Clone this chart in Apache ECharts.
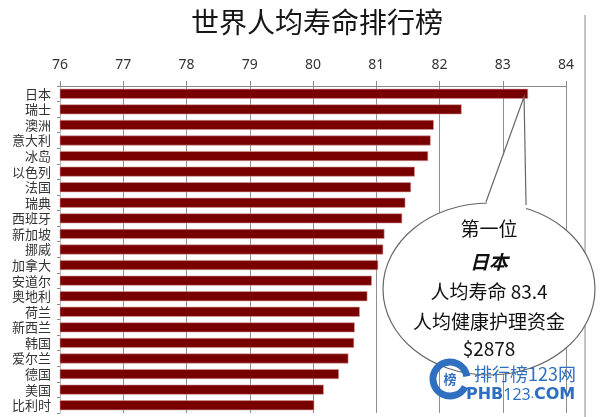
<!DOCTYPE html>
<html>
<head>
<meta charset="utf-8">
<script src="https://cdn.jsdelivr.net/npm/echarts@6/dist/echarts.min.js"></script>
<style>
  html, body { margin: 0; padding: 0; background: #fff; }
  #chart { width: 600px; height: 417px; }
</style>
</head>
<body>
<div id="chart"></div>
<script>
// 国家（从上到下）
const countries = ['日本', '瑞士', '澳洲', '意大利', '冰岛', '以色列', '法国', '瑞典', '西班牙', '新加坡',
  '挪威', '加拿大', '安道尔', '奥地利', '荷兰', '新西兰', '韩国', '爱尔兰', '德国', '美国', '比利时']
// 人均寿命（岁）
const lifeExpectancy = [83.4, 82.35, 81.91, 81.86, 81.82, 81.61, 81.55, 81.46, 81.41, 81.13,
  81.11, 81.03, 80.93, 80.86, 80.74, 80.66, 80.65, 80.56, 80.41, 80.17, 80.02]
const axisMin = 76
const axisMax = 84
// 气泡说明文字
const calloutLines = ['第一位', '日本', '人均寿命 83.4', '人均健康护理资金', '$2878']

const CJK = '"Noto Sans CJK SC", "Noto Sans", sans-serif'
const myChart = echarts.init(document.getElementById('chart'))

const options = {
  backgroundColor: '#fff',
  animation: false,
  title: {
    text: '世界人均寿命排行榜',
    left: 186,
    top: 3,
    textStyle: { fontFamily: CJK, fontSize: 28, fontWeight: 'normal', color: '#151515' }
  },
  grid: { left: 60, right: 34, top: 86, bottom: 4 },
  xAxis: {
    type: 'value',
    position: 'top',
    min: axisMin,
    max: axisMax,
    interval: 1,
    axisLine: { show: true, lineStyle: { color: '#8a8a8a' } },
    axisTick: { show: true, length: 5, lineStyle: { color: '#8a8a8a' } },
    axisLabel: { margin: 14, fontSize: 14, color: '#333', fontFamily: '"Noto Sans", sans-serif' },
    splitLine: { show: true, lineStyle: { color: '#8f8f8f', width: 1 } }
  },
  yAxis: {
    type: 'category',
    inverse: true,
    data: countries,
    axisLine: { show: true, lineStyle: { color: '#bbb' } },
    axisTick: { show: true, length: 3, lineStyle: { color: '#8a8a8a' } },
    axisLabel: { interval: 0, margin: 9, fontSize: 13, color: '#333', fontFamily: CJK }
  },
  series: [{
    type: 'bar',
    data: lifeExpectancy,
    barCategoryGap: '36%',
    itemStyle: { color: '#780000', borderColor: '#d99a9a', borderWidth: 0.6 }
  }]
}
myChart.setOption(options)

// 气泡标注：尖端指向第一名的柱端
const tip = myChart.convertToPixel({ gridIndex: 0 }, [lifeExpectancy[0], countries[0]])
const cx = 489
const cy = 289
const tipX = tip[0] - 4
const tipY = tip[1] + 3
const line = '#666'
const textStyle = (y, size, extra) => Object.assign({
  x: cx, y: y, text: '', fill: '#111', fontSize: size, fontFamily: CJK,
  align: 'center', verticalAlign: 'middle'
}, extra || {})

myChart.setOption({
  graphic: [
    // 右侧竖线（原图边框）
    { type: 'line', shape: { x1: 585, y1: 15, x2: 585, y2: 417 }, style: { stroke: '#888', lineWidth: 1 }, z: 50 },
    { type: 'ellipse', shape: { cx: cx, cy: cy, rx: 106, ry: 86 }, style: { fill: '#fff', stroke: line, lineWidth: 1.2 }, z: 100 },
    {
      type: 'polygon',
      shape: { points: [[cx - 2, 201], [tipX, tipY], [tipX + 2, 205], [tipX + 2, 212], [cx - 2, 212]] },
      style: { fill: '#fff' }, z: 101
    },
    {
      type: 'polyline',
      shape: { points: [[cx - 3, 202], [tipX, tipY], [tipX + 2, 205]] },
      style: { stroke: line, lineWidth: 1.2, fill: null }, z: 102
    },
    { type: 'text', style: textStyle(229, 19, { text: calloutLines[0] }), z: 103 },
    { type: 'text', style: textStyle(262, 19, { text: calloutLines[1], fontStyle: 'italic', fontWeight: 'bold' }), z: 103 },
    { type: 'text', style: textStyle(292, 19, { text: calloutLines[2] }), z: 103 },
    { type: 'text', style: textStyle(322, 19, { text: calloutLines[3] }), z: 103 },
    { type: 'text', style: textStyle(349, 19, { text: calloutLines[4] }), z: 103 },
    // 水印
    { type: 'arc', shape: { cx: 450, cy: 379, r: 17, startAngle: Math.PI * 0.15, endAngle: Math.PI * 1.95 },
      style: { stroke: '#2f6fbf', lineWidth: 7, fill: null }, z: 110 },
    { type: 'text', style: { x: 450, y: 379, text: '榜', fill: '#2f6fbf', fontSize: 13, fontWeight: 'bold', fontFamily: CJK,
      align: 'center', verticalAlign: 'middle' }, z: 111 },
    { type: 'text', style: { x: 474, y: 374, text: '排行榜123网', fill: '#2f6fbf', fontSize: 18, fontFamily: CJK,
      align: 'left', verticalAlign: 'middle' }, z: 111 },
    { type: 'text', style: { x: 466, y: 395, text: '{b|PHB}{n|123}{s|.}{b|COM}', fill: '#2f6fbf',
      align: 'left', verticalAlign: 'middle',
      rich: {
        b: { fontSize: 16, fontWeight: 900, fontFamily: '"DejaVu Sans", sans-serif', fill: '#2f6fbf' },
        n: { fontSize: 16, fontFamily: '"Noto Sans", sans-serif', fill: '#2f6fbf' },
        s: { fontSize: 12, fontFamily: '"Noto Sans", sans-serif', fill: '#2f6fbf' }
      } }, z: 111 }
  ]
})
</script>
</body>
</html>
